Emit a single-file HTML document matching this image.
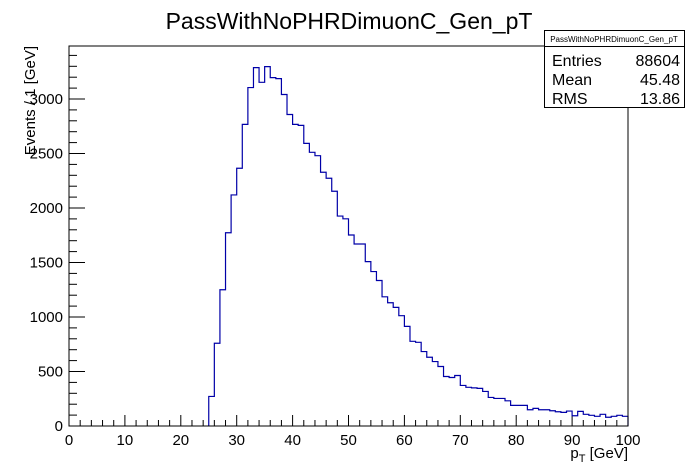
<!DOCTYPE html>
<html><head><meta charset="utf-8"><style>
body{margin:0;background:#fff;}
svg{display:block;font-family:"Liberation Sans",Arial,sans-serif;}
</style></head><body>
<svg id="c" width="698" height="474">
<rect x="0" y="0" width="698" height="474" fill="#fff"/>
<text x="349" y="29" font-size="23" text-anchor="middle">PassWithNoPHRDimuonC_Gen_pT</text>
<g id="axes"></g>
<path id="hist" fill="none" stroke="#0000a8" stroke-width="1.2"/>
<rect x="69" y="46" width="559" height="380" fill="none" stroke="#000" stroke-width="1"/>
<g>
<rect x="544.5" y="30.5" width="140" height="77" fill="#fff" stroke="#000"/>
<line x1="544.5" y1="46.5" x2="684.5" y2="46.5" stroke="#000"/>
<text x="614" y="42" font-size="8" text-anchor="middle">PassWithNoPHRDimuonC_Gen_pT</text>
<text x="552" y="66" font-size="16">Entries</text><text x="680" y="66" font-size="16" text-anchor="end">88604</text>
<text x="552" y="85" font-size="16">Mean</text><text x="680" y="85" font-size="16" text-anchor="end">45.48</text>
<text x="552" y="104" font-size="16">RMS</text><text x="680" y="104" font-size="16" text-anchor="end">13.86</text>
</g>
<text transform="translate(35,46) rotate(-90)" font-size="15" text-anchor="end">Events / 1 [GeV]</text>
<text x="628" y="458" font-size="15" text-anchor="end">p<tspan font-size="11" dy="4">T</tspan><tspan dy="-4"> [GeV]</tspan></text>
</svg>
<script>
const binStart = 25;
const counts = [271,759,1250,1773,2120,2365,2767,3105,3288,3153,3297,3196,3187,3041,2858,2767,2758,2593,2511,2480,2328,2273,2154,1926,1901,1752,1670,1670,1508,1417,1335,1185,1131,1088,1012,914,777,768,683,631,591,546,454,445,463,372,355,350,345,317,262,253,253,231,189,189,189,149,162,149,149,140,131,125,137,94,134,107,98,89,107,80,89,98,89];
const xTicks = [0,10,20,30,40,50,60,70,80,90,100];
const yTicks = [0,500,1000,1500,2000,2500,3000];
const X0=69,X1=628,Y0=426,Y1=46;
const xs = v => X0 + v*(X1-X0)/100;
const ys = v => Y0 - v*0.10900;
const svg=document.getElementById('c'), ax=document.getElementById('axes');
const NS='http://www.w3.org/2000/svg';
function line(x1,y1,x2,y2,name){const l=document.createElementNS(NS,'line');l.setAttribute('x1',x1);l.setAttribute('y1',y1);l.setAttribute('x2',x2);l.setAttribute('y2',y2);l.setAttribute('stroke','#000');


ax.appendChild(l);}
function text(x,y,s,anchor,name){const t=document.createElementNS(NS,'text');t.setAttribute('x',x);t.setAttribute('y',y);t.setAttribute('font-size','15');t.setAttribute('text-anchor',anchor);t.textContent=s;


ax.appendChild(t);}
for(let v=0;v<=100;v+=2){const x=xs(v);line(x,Y0,x,Y0-(v%10===0?11:6),'x-tick');}
xTicks.forEach(v=>text(xs(v),445,String(v),'middle','x-tick-label'));
for(let v=0;v<=3400;v+=100){const y=ys(v);if(y<Y1)break;line(X0,y,X0+(v%500===0?16:8),y,'y-tick');}
yTicks.forEach(v=>text(63,ys(v)+5,String(v),'end','y-tick-label'));
let d='M'+xs(binStart)+','+Y0;
counts.forEach((c,i)=>{d+=' L'+xs(binStart+i)+','+ys(c)+' L'+xs(binStart+i+1)+','+ys(c);});
d+=' L'+xs(binStart+counts.length)+','+Y0;
document.getElementById('hist').setAttribute('d',d);
</script>
</body></html>
